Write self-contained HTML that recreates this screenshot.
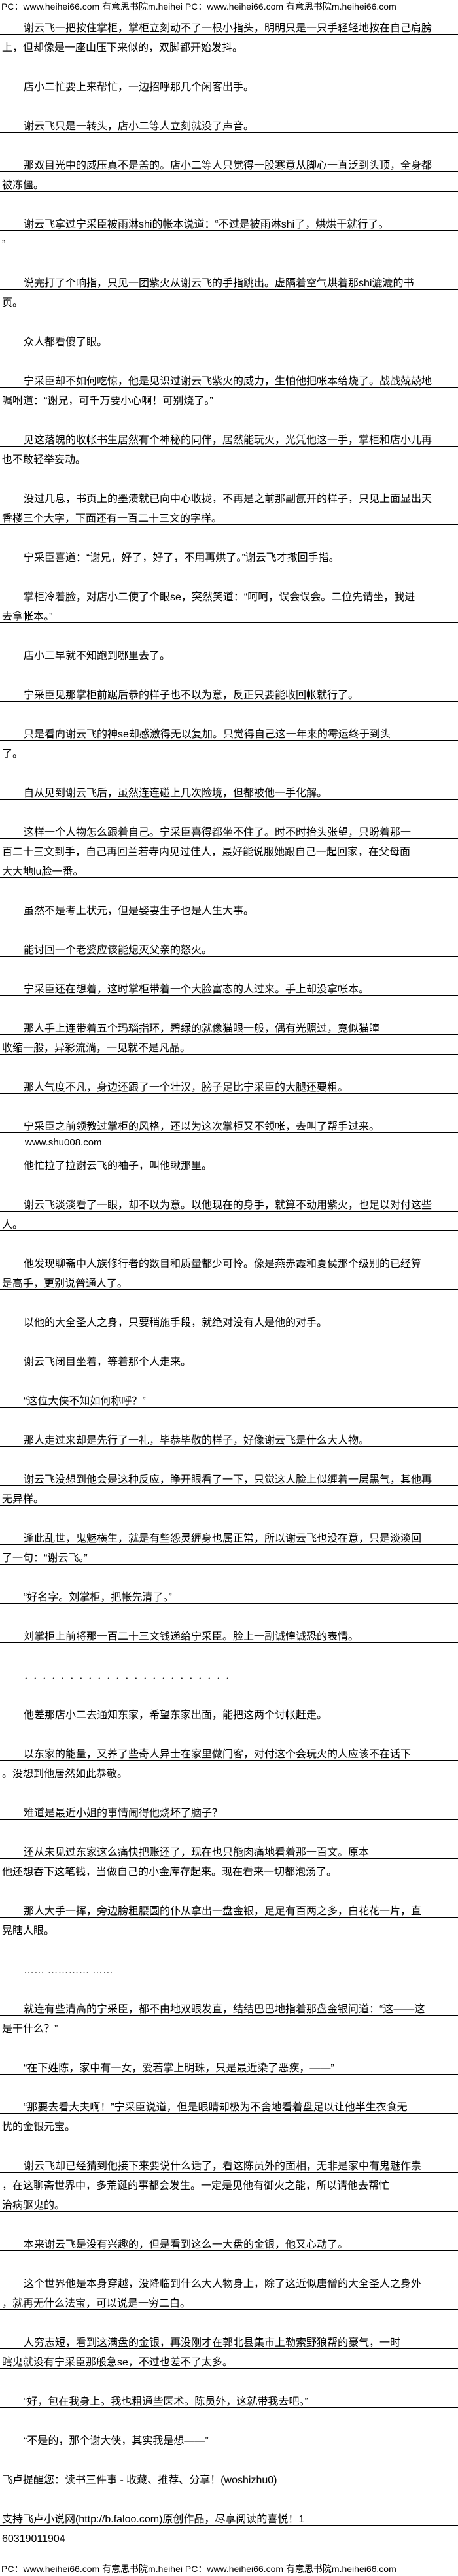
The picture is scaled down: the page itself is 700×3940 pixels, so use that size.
<!DOCTYPE html>
<html><head><meta charset="utf-8">
<style>
html,body{margin:0;padding:0;background:#fff;}
body{width:700px;height:3940px;overflow:hidden;font-family:"Liberation Sans","WenQuanYi Zen Hei","Noto Sans CJK SC",sans-serif;font-size:16px;color:#000;}
.h{height:23px;line-height:20px;white-space:nowrap;overflow:hidden;font-size:14px;padding-left:2px;}
.f{height:47px;line-height:20px;white-space:nowrap;overflow:hidden;font-size:14px;padding-left:2px;padding-top:26px;box-sizing:border-box;}
.l{height:29px;line-height:41px;border-bottom:1px solid #000;white-space:nowrap;overflow:hidden;padding-left:3px;}
.i{padding-left:36px;}
.b{height:30px;}
.n{height:30px;line-height:30px;white-space:nowrap;font-size:15px;padding-left:38px;}
.d{letter-spacing:6px;}
</style></head><body>
<div class="h">PC：www.heihei66.com 有意思书院m.heihei PC：www.heihei66.com 有意思书院m.heihei66.com</div>
<div class="l i">谢云飞一把按住掌柜，掌柜立刻动不了一根小指头，明明只是一只手轻轻地按在自己肩膀</div>
<div class="l">上，但却像是一座山压下来似的，双脚都开始发抖。</div>
<div class="b"></div>
<div class="l i">店小二忙要上来帮忙，一边招呼那几个闲客出手。</div>
<div class="b"></div>
<div class="l i">谢云飞只是一转头，店小二等人立刻就没了声音。</div>
<div class="b"></div>
<div class="l i">那双目光中的威压真不是盖的。店小二等人只觉得一股寒意从脚心一直泛到头顶，全身都</div>
<div class="l">被冻僵。</div>
<div class="b"></div>
<div class="l i">谢云飞拿过宁采臣被雨淋shi的帐本说道：“不过是被雨淋shi了，烘烘干就行了。</div>
<div class="l">”</div>
<div class="b"></div>
<div class="l i">说完打了个响指，只见一团紫火从谢云飞的手指跳出。虚隔着空气烘着那shi漉漉的书</div>
<div class="l">页。</div>
<div class="b"></div>
<div class="l i">众人都看傻了眼。</div>
<div class="b"></div>
<div class="l i">宁采臣却不如何吃惊，他是见识过谢云飞紫火的威力，生怕他把帐本给烧了。战战兢兢地</div>
<div class="l">嘱咐道：“谢兄，可千万要小心啊！可别烧了。”</div>
<div class="b"></div>
<div class="l i">见这落魄的收帐书生居然有个神秘的同伴，居然能玩火，光凭他这一手，掌柜和店小儿再</div>
<div class="l">也不敢轻举妄动。</div>
<div class="b"></div>
<div class="l i">没过几息，书页上的墨渍就已向中心收拢，不再是之前那副氤开的样子，只见上面显出天</div>
<div class="l">香楼三个大字，下面还有一百二十三文的字样。</div>
<div class="b"></div>
<div class="l i">宁采臣喜道：“谢兄，好了，好了，不用再烘了。”谢云飞才撤回手指。</div>
<div class="b"></div>
<div class="l i">掌柜冷着脸，对店小二使了个眼se，突然笑道：“呵呵，误会误会。二位先请坐，我进</div>
<div class="l">去拿帐本。”</div>
<div class="b"></div>
<div class="l i">店小二早就不知跑到哪里去了。</div>
<div class="b"></div>
<div class="l i">宁采臣见那掌柜前踞后恭的样子也不以为意，反正只要能收回帐就行了。</div>
<div class="b"></div>
<div class="l i">只是看向谢云飞的神se却感激得无以复加。只觉得自己这一年来的霉运终于到头</div>
<div class="l">了。</div>
<div class="b"></div>
<div class="l i">自从见到谢云飞后，虽然连连碰上几次险境，但都被他一手化解。</div>
<div class="b"></div>
<div class="l i">这样一个人物怎么跟着自己。宁采臣喜得都坐不住了。时不时抬头张望，只盼着那一</div>
<div class="l">百二十三文到手，自己再回兰若寺内见过佳人，最好能说服她跟自己一起回家，在父母面</div>
<div class="l">大大地lu脸一番。</div>
<div class="b"></div>
<div class="l i">虽然不是考上状元，但是娶妻生子也是人生大事。</div>
<div class="b"></div>
<div class="l i">能讨回一个老婆应该能熄灭父亲的怒火。</div>
<div class="b"></div>
<div class="l i">宁采臣还在想着，这时掌柜带着一个大脸富态的人过来。手上却没拿帐本。</div>
<div class="b"></div>
<div class="l i">那人手上连带着五个玛瑙指环，碧绿的就像猫眼一般，偶有光照过，竟似猫瞳</div>
<div class="l">收缩一般，异彩流淌，一见就不是凡品。</div>
<div class="b"></div>
<div class="l i">那人气度不凡，身边还跟了一个壮汉，膀子足比宁采臣的大腿还要粗。</div>
<div class="b"></div>
<div class="l i">宁采臣之前领教过掌柜的风格，还以为这次掌柜又不领帐，去叫了帮手过来。</div>
<div class="n">www.shu008.com</div>
<div class="l i">他忙拉了拉谢云飞的袖子，叫他瞅那里。</div>
<div class="b"></div>
<div class="l i">谢云飞淡淡看了一眼，却不以为意。以他现在的身手，就算不动用紫火，也足以对付这些</div>
<div class="l">人。</div>
<div class="b"></div>
<div class="l i">他发现聊斋中人族修行者的数目和质量都少可怜。像是燕赤霞和夏侯那个级别的已经算</div>
<div class="l">是高手，更别说普通人了。</div>
<div class="b"></div>
<div class="l i">以他的大全圣人之身，只要稍施手段，就绝对没有人是他的对手。</div>
<div class="b"></div>
<div class="l i">谢云飞闭目坐着，等着那个人走来。</div>
<div class="b"></div>
<div class="l i">“这位大侠不知如何称呼？”</div>
<div class="b"></div>
<div class="l i">那人走过来却是先行了一礼，毕恭毕敬的样子，好像谢云飞是什么大人物。</div>
<div class="b"></div>
<div class="l i">谢云飞没想到他会是这种反应，睁开眼看了一下，只觉这人脸上似缠着一层黑气，其他再</div>
<div class="l">无异样。</div>
<div class="b"></div>
<div class="l i">逢此乱世，鬼魅横生，就是有些怨灵缠身也属正常，所以谢云飞也没在意，只是淡淡回</div>
<div class="l">了一句：“谢云飞。”</div>
<div class="b"></div>
<div class="l i">“好名字。刘掌柜，把帐先清了。”</div>
<div class="b"></div>
<div class="l i">刘掌柜上前将那一百二十三文钱递给宁采臣。脸上一副诚惶诚恐的表情。</div>
<div class="b"></div>
<div class="l i d">．．．．．．．．．．．．．．．．．．．．．．．</div>
<div class="b"></div>
<div class="l i">他差那店小二去通知东家，希望东家出面，能把这两个讨帐赶走。</div>
<div class="b"></div>
<div class="l i">以东家的能量，又养了些奇人异士在家里做门客，对付这个会玩火的人应该不在话下</div>
<div class="l">。没想到他居然如此恭敬。</div>
<div class="b"></div>
<div class="l i">难道是最近小姐的事情闹得他烧坏了脑子？</div>
<div class="b"></div>
<div class="l i">还从未见过东家这么痛快把账还了，现在也只能肉痛地看着那一百文。原本</div>
<div class="l">他还想吞下这笔钱，当做自己的小金库存起来。现在看来一切都泡汤了。</div>
<div class="b"></div>
<div class="l i">那人大手一挥，旁边膀粗腰圆的仆从拿出一盘金银，足足有百两之多，白花花一片，直</div>
<div class="l">晃瞎人眼。</div>
<div class="b"></div>
<div class="l i">…… ………… ……</div>
<div class="b"></div>
<div class="l i">就连有些清高的宁采臣，都不由地双眼发直，结结巴巴地指着那盘金银问道：“这——这</div>
<div class="l">是干什么？”</div>
<div class="b"></div>
<div class="l i">“在下姓陈，家中有一女，爱若掌上明珠，只是最近染了恶疾，——”</div>
<div class="b"></div>
<div class="l i">“那要去看大夫啊！”宁采臣说道，但是眼睛却极为不舍地看着盘足以让他半生衣食无</div>
<div class="l">忧的金银元宝。</div>
<div class="b"></div>
<div class="l i">谢云飞却已经猜到他接下来要说什么话了，看这陈员外的面相，无非是家中有鬼魅作祟</div>
<div class="l">，在这聊斋世界中，多荒诞的事都会发生。一定是见他有御火之能，所以请他去帮忙</div>
<div class="l">治病驱鬼的。</div>
<div class="b"></div>
<div class="l i">本来谢云飞是没有兴趣的，但是看到这么一大盘的金银，他又心动了。</div>
<div class="b"></div>
<div class="l i">这个世界他是本身穿越，没降临到什么大人物身上，除了这近似唐僧的大全圣人之身外</div>
<div class="l">，就再无什么法宝，可以说是一穷二白。</div>
<div class="b"></div>
<div class="l i">人穷志短，看到这满盘的金银，再没刚才在郭北县集市上勒索野狼帮的豪气，一时</div>
<div class="l">瞎鬼就没有宁采臣那般急se，不过也差不了太多。</div>
<div class="b"></div>
<div class="l i">“好，包在我身上。我也粗通些医术。陈员外，这就带我去吧。”</div>
<div class="b"></div>
<div class="l i">“不是的，那个谢大侠，其实我是想——”</div>
<div class="b"></div>
<div class="l">飞卢提醒您：读书三件事 - 收藏、推荐、分享！(woshizhu0)</div>
<div class="b"></div>
<div class="l">支持飞卢小说网(http://b.faloo.com)原创作品，尽享阅读的喜悦！1</div>
<div class="l">60319011904</div>
<div class="f">PC：www.heihei66.com 有意思书院m.heihei PC：www.heihei66.com 有意思书院m.heihei66.com</div>
</body></html>
